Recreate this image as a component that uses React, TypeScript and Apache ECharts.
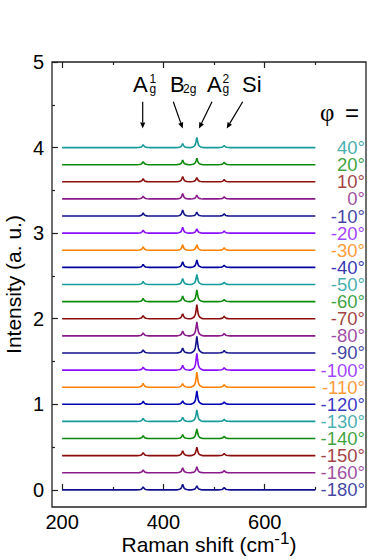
import React, { useEffect, useRef } from "react";
import * as echarts from "echarts";

const ANGLES = [-180, -160, -150, -140, -130, -120, -110, -100, -90, -80, -70, -60, -50, -40, -30, -20, -10, 0, 10, 20, 40];
const OFFSETS = [0, 0.2, 0.4, 0.6, 0.8, 1.0, 1.2, 1.4, 1.6, 1.8, 2.0, 2.2, 2.4, 2.6, 2.8, 3.0, 3.2, 3.4, 3.6, 3.8, 4.0];
const COLORS = [
  "#10108c", "#8a1a8a", "#8b0d0d", "#0a8a0a", "#169a9a", "#0000b4", "#ff8000", "#8a10ff",
  "#10108c", "#8a1a8a", "#8b0d0d", "#0a8a0a", "#169a9a", "#0000a0", "#ff8000", "#8a10ff",
  "#10108c", "#8a1a8a", "#8b0d0d", "#0a8a0a", "#169a9a",
];
// peak positions (cm-1): Ag1, B2g, Ag2, Si
const PEAK_POS = [360, 438, 466, 520];
const AG1 = [0.035, 0.033, 0.035, 0.033, 0.035, 0.035, 0.045, 0.035, 0.035, 0.035, 0.037, 0.037, 0.035, 0.035, 0.04, 0.035, 0.035, 0.032, 0.035, 0.035, 0.033];
const B2G = [0.066, 0.058, 0.058, 0.047, 0.047, 0.04, 0.04, 0.055, 0.058, 0.055, 0.058, 0.066, 0.07, 0.066, 0.065, 0.07, 0.07, 0.062, 0.062, 0.055, 0.045];
const AG2 = [0.047, 0.07, 0.1, 0.113, 0.136, 0.156, 0.175, 0.195, 0.195, 0.164, 0.164, 0.136, 0.117, 0.086, 0.065, 0.05, 0.047, 0.043, 0.05, 0.075, 0.12];
const SI = [0.028, 0.025, 0.025, 0.025, 0.025, 0.028, 0.03, 0.028, 0.028, 0.028, 0.028, 0.025, 0.025, 0.025, 0.028, 0.025, 0.025, 0.025, 0.025, 0.028, 0.025];
// peak line shape (relative offset in cm-1, fraction of height)
const PROFILE_DX = [-12, -8, -5, -3, -1.5, 0, 1.5, 3, 5, 8, 12];
const PROFILE_FRAC = [0, 0.06, 0.14, 0.3, 0.62, 1, 0.62, 0.3, 0.14, 0.06, 0];
const X_START = 200;
const X_END = 700;
const X_LABELS = [200, 400, 600];
const X_MINOR = [300, 500, 700];
const Y_LABELS = [0, 1, 2, 3, 4, 5];
const Y_MINOR = [0.5, 1.5, 2.5, 3.5, 4.5];

const FONT = "Liberation Sans, Arial, sans-serif";

function buildTrace(i: number): number[][] {
  const off = OFFSETS[i];
  const heights = [AG1[i], B2G[i], AG2[i], SI[i]];
  const pts: number[][] = [[X_START, off]];
  PEAK_POS.forEach((p, k) => {
    PROFILE_DX.forEach((dx, j) => {
      pts.push([p + dx, off + heights[k] * PROFILE_FRAC[j]]);
    });
  });
  pts.push([X_END, off]);
  return pts;
}

function arrow(x1: number, y1: number, x2: number, y2: number): any[] {
  const dx = x2 - x1;
  const dy = y2 - y1;
  const len = Math.sqrt(dx * dx + dy * dy);
  const ux = dx / len;
  const uy = dy / len;
  const px = -uy;
  const py = ux;
  const hl = 6;
  const hw = 2.6;
  const bx = x2 - ux * hl;
  const by = y2 - uy * hl;
  return [
    { type: "line", shape: { x1, y1, x2: bx, y2: by }, style: { stroke: "#000", lineWidth: 1.2 } },
    {
      type: "polygon",
      shape: { points: [[x2, y2], [bx + px * hw, by + py * hw], [bx - px * hw, by - py * hw]] },
      style: { fill: "#000" },
    },
  ];
}

function txt(text: string, x: number, y: number, size: number, family = FONT, lh?: number): any {
  return {
    type: "text",
    x,
    y,
    style: {
      text,
      fontSize: size,
      fontFamily: family,
      fill: "#000",
      align: "left",
      verticalAlign: "middle",
      lineHeight: lh ?? size,
    },
  };
}

export default function App() {
  const ref = useRef<HTMLDivElement>(null);
  useEffect(() => {
    if (!ref.current) return;
    const chart = echarts.init(ref.current, undefined, { renderer: "svg" });
    const tickStyle = { color: "#222", width: 1.2 };
    const baseX = { type: "value", min: 180, max: 800, splitLine: { show: false }, axisLine: { show: false } };
    const baseY = { type: "value", min: -0.2, max: 5, splitLine: { show: false }, axisLine: { show: false } };
    const series: any[] = ANGLES.map((a, i) => ({
      type: "line",
      name: `${a}°`,
      data: buildTrace(i),
      showSymbol: false,
      symbol: "none",
      lineStyle: { color: COLORS[i], width: 1.6 },
      xAxisIndex: 0,
      yAxisIndex: 0,
      z: 2,
    }));
    series.push({
      type: "scatter",
      xAxisIndex: 0,
      yAxisIndex: 0,
      symbolSize: 0,
      clip: false,
      data: ANGLES.map((a, i) => ({
        name: `${a}°`,
        value: [800, OFFSETS[i]],
        label: { color: COLORS[i] },
      })),
      label: {
        show: true,
        position: "left",
        distance: 1,
        formatter: "{b}",
        fontSize: 18.5,
        lineHeight: 16,
        fontFamily: FONT,
      },
      z: 3,
    });
    const graphic: any[] = [
      txt("A", 133, 84, 22, FONT, 17),
      txt("1", 149.5, 79, 12, FONT, 9),
      txt("g", 149.5, 89, 12, FONT, 9),
      txt("B", 170, 84, 22, FONT, 17),
      txt("2g", 183, 89, 12, FONT, 9),
      txt("A", 207, 84, 22, FONT, 17),
      txt("2", 222.5, 79, 12, FONT, 9),
      txt("g", 222.5, 89, 12, FONT, 9),
      txt("Si", 242, 84, 22, FONT, 17),
      txt("φ", 320, 112, 25, "Liberation Serif, serif"),
      txt("=", 345, 112, 24),
      ...arrow(142.7, 101.7, 142.7, 128.5),
      ...arrow(173.3, 101.7, 182.7, 128.5),
      ...arrow(212, 101.7, 199, 128.5),
      ...arrow(242.7, 101.7, 226.7, 128.5),
    ];
    chart.setOption({
      animation: false,
      backgroundColor: "#fff",
      grid: {
        left: 52,
        right: 5,
        top: 62,
        bottom: 53,
        containLabel: false,
        outerBoundsMode: "none",
        show: true,
        borderColor: "#222",
        borderWidth: 1.3,
        backgroundColor: "transparent",
      },
      xAxis: [
        {
          ...baseX,
          position: "bottom",
          axisTick: { inside: true, length: 6, customValues: X_LABELS, lineStyle: tickStyle },
          axisLabel: { customValues: X_LABELS, fontSize: 20, color: "#000", fontFamily: FONT, margin: 5 },
          name: "{a|Raman shift (cm}{s|-1}{a|)}",
          nameLocation: "middle",
          nameGap: 26,
          nameMoveOverlap: false,
          nameTextStyle: {
            rich: {
              a: { fontSize: 21, lineHeight: 22, fontFamily: FONT, color: "#000", verticalAlign: "bottom" },
              s: { fontSize: 17, lineHeight: 17, fontFamily: FONT, color: "#000", verticalAlign: "bottom", padding: [0, 0, 8, 0] },
            },
          },
        },
        {
          ...baseX,
          position: "bottom",
          axisTick: { inside: true, length: 3, customValues: X_MINOR, lineStyle: tickStyle },
          axisLabel: { show: false },
        },
        {
          ...baseX,
          position: "top",
          axisTick: { inside: true, length: 6, customValues: X_LABELS, lineStyle: tickStyle },
          axisLabel: { show: false },
        },
        {
          ...baseX,
          position: "top",
          axisTick: { inside: true, length: 3, customValues: X_MINOR, lineStyle: tickStyle },
          axisLabel: { show: false },
        },
      ],
      yAxis: [
        {
          ...baseY,
          position: "left",
          axisTick: { inside: true, length: 6, customValues: Y_LABELS, lineStyle: tickStyle },
          axisLabel: { customValues: Y_LABELS, fontSize: 20, color: "#000", fontFamily: FONT, margin: 8 },
          name: "Intensity (a. u.)",
          nameLocation: "middle",
          nameGap: 28,
          nameMoveOverlap: false,
          nameTextStyle: { fontSize: 21, fontFamily: FONT, color: "#000" },
        },
        {
          ...baseY,
          position: "left",
          axisTick: { inside: true, length: 3, customValues: Y_MINOR, lineStyle: tickStyle },
          axisLabel: { show: false },
        },
      ],
      series,
      graphic,
    });
    return () => chart.dispose();
  }, []);
  return <div ref={ref} style={{ position: "fixed", left: 0, top: 0, width: 371, height: 560 }} />;
}
